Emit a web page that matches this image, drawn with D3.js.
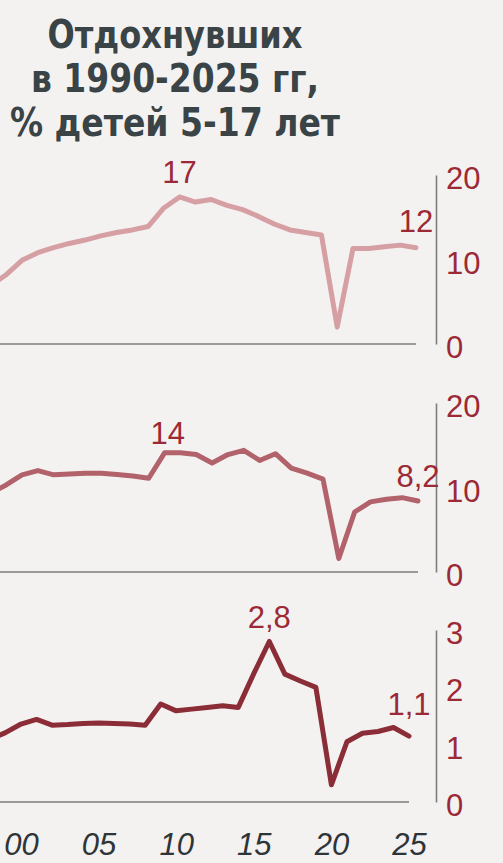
<!DOCTYPE html>
<html>
<head>
<meta charset="utf-8">
<script src="https://cdn.jsdelivr.net/npm/d3@7"></script>
<style>
  html, body { margin: 0; padding: 0; background: #f4f2f1; }
  svg { display: block; }
</style>
</head>
<body>
<div id="chart"></div>
<script>
// years visible in the crop (series starts 1990, left part is cut off)
const years = d3.range(1998, 2026);

const seriesA = [6.9, 8.2, 9.9, 10.8, 11.4, 11.9, 12.3, 12.8, 13.2, 13.5, 13.9, 16.1, 17.4, 16.8,
  17.1, 16.4, 15.9, 15.1, 14.2, 13.5, 13.2, 12.9, 2.0, 11.3, 11.3, 11.5, 11.7, 11.4];
const seriesB = [9.3, 10.3, 11.5, 12.0, 11.5, 11.6, 11.7, 11.7, 11.55, 11.35, 11.1, 14.1, 14.1, 13.9,
  12.9, 13.9, 14.4, 13.2, 14.0, 12.3, 11.7, 11.0, 1.6, 7.1, 8.3, 8.6, 8.8, 8.4];
const seriesC = [1.09, 1.21, 1.36, 1.44, 1.34, 1.35, 1.37, 1.38, 1.37, 1.36, 1.34, 1.71, 1.59, 1.62,
  1.65, 1.68, 1.65, 2.24, 2.8, 2.23, 2.11, 2.0, 0.3, 1.05, 1.2, 1.23, 1.3, 1.15];

const yTicksAB = [0, 10, 20];
const yTicksC = [0, 1, 2, 3];
const xTicks = [2000, 2005, 2010, 2015, 2020, 2025];

// callouts: [year, text]
const notesA = [[2010, '17'], [2025, '12']];
const notesB = [[2009.2, '14'], [2025, '8,2']];
const notesC = [[2016, '2,8'], [2025, '1,1']];

const titleLines = ['Отдохнувших', 'в 1990-2025 гг,', '% детей 5-17 лет'];

const width = 503, height = 863;
const red = '#9b2a36';
const grey = '#7d7d7d';

const svg = d3.select('#chart')
  .append('svg')
  .attr('width', width)
  .attr('height', height)
  .style('background-color', '#f4f2f1');

// title
const titleWidths = [255, 288, 330];
const titleBase = [48, 92, 136];
svg.append('g')
  .selectAll('text')
  .data(titleLines)
  .join('text')
    .attr('x', 175)
    .attr('y', (d, i) => titleBase[i])
    .attr('text-anchor', 'middle')
    .attr('font-family', '"Liberation Sans Narrow", "DejaVu Sans Condensed", sans-serif')
    .attr('font-weight', 'bold')
    .attr('font-size', 39)
    .attr('fill', '#3a4345')
    .attr('textLength', (d, i) => titleWidths[i])
    .attr('lengthAdjust', 'spacingAndGlyphs')
    .text(d => d);

const panels = [
  { values: seriesA, max: 20, ticks: yTicksAB, notes: notesA, color: '#d59fa4',
    top: 175, bottom: 344, x0: 22, x1: 416, noteDy: [-14, -16] },
  { values: seriesB, max: 20, ticks: yTicksAB, notes: notesB, color: '#b2626b',
    top: 403, bottom: 572, x0: 22, x1: 418, noteDy: [-9, -14] },
  { values: seriesC, max: 3, ticks: yTicksC, notes: notesC, color: '#8b2d36',
    top: 630, bottom: 802, x0: 21, x1: 409, noteDy: [-13, -21] }
];

let lastX;

panels.forEach(p => {
  const x = d3.scaleLinear().domain([2000, 2025]).range([p.x0, p.x1]);
  const y = d3.scaleLinear().domain([0, p.max]).range([p.bottom, p.top]);
  lastX = x;

  const g = svg.append('g');

  // baseline
  g.append('line')
    .attr('x1', 0)
    .attr('x2', x(2025))
    .attr('y1', y(0))
    .attr('y2', y(0))
    .attr('stroke', grey)
    .attr('stroke-width', 1.6);

  // right axis
  g.append('g')
    .attr('transform', 'translate(436,0)')
    .call(d3.axisRight(y).tickValues(p.ticks).tickSize(0).tickPadding(10).tickFormat(d3.format('d')))
    .call(a => a.select('.domain').attr('stroke', grey).attr('stroke-width', 1.6))
    .call(a => a.selectAll('text')
      .attr('fill', red)
      .attr('font-family', '"Liberation Sans Narrow", sans-serif')
      .attr('font-size', 31)
      .attr('dy', 13.5));

  const line = d3.line()
    .x((d, i) => x(years[i]))
    .y(d => y(d));

  g.append('path')
    .datum(p.values)
    .attr('fill', 'none')
    .attr('stroke', p.color)
    .attr('stroke-width', 5)
    .attr('stroke-linejoin', 'round')
    .attr('stroke-linecap', 'round')
    .attr('d', line);

  // callouts
  g.selectAll('.note')
    .data(p.notes)
    .join('text')
      .attr('class', 'note')
      .attr('x', d => x(d[0]))
      .attr('y', (d, i) => {
        const v = p.values[years.indexOf(Math.round(d[0]))];
        return y(v) + p.noteDy[i];
      })
      .attr('text-anchor', 'middle')
      .attr('font-family', '"Liberation Sans Narrow", sans-serif')
      .attr('font-size', 31)
      .attr('fill', red)
      .text(d => d[1]);
});

// bottom year labels
svg.append('g')
  .attr('transform', 'translate(0,802)')
  .call(d3.axisBottom(lastX).tickValues(xTicks).tickSize(0).tickFormat(d => String(d).slice(2)))
  .call(a => a.select('.domain').remove())
  .call(a => a.selectAll('text')
    .attr('y', 53)
    .attr('dy', 0)
    .attr('fill', '#2e3538')
    .attr('font-family', '"Liberation Sans Narrow", sans-serif')
    .attr('font-style', 'italic')
    .attr('font-size', 31));
</script>
</body>
</html>
